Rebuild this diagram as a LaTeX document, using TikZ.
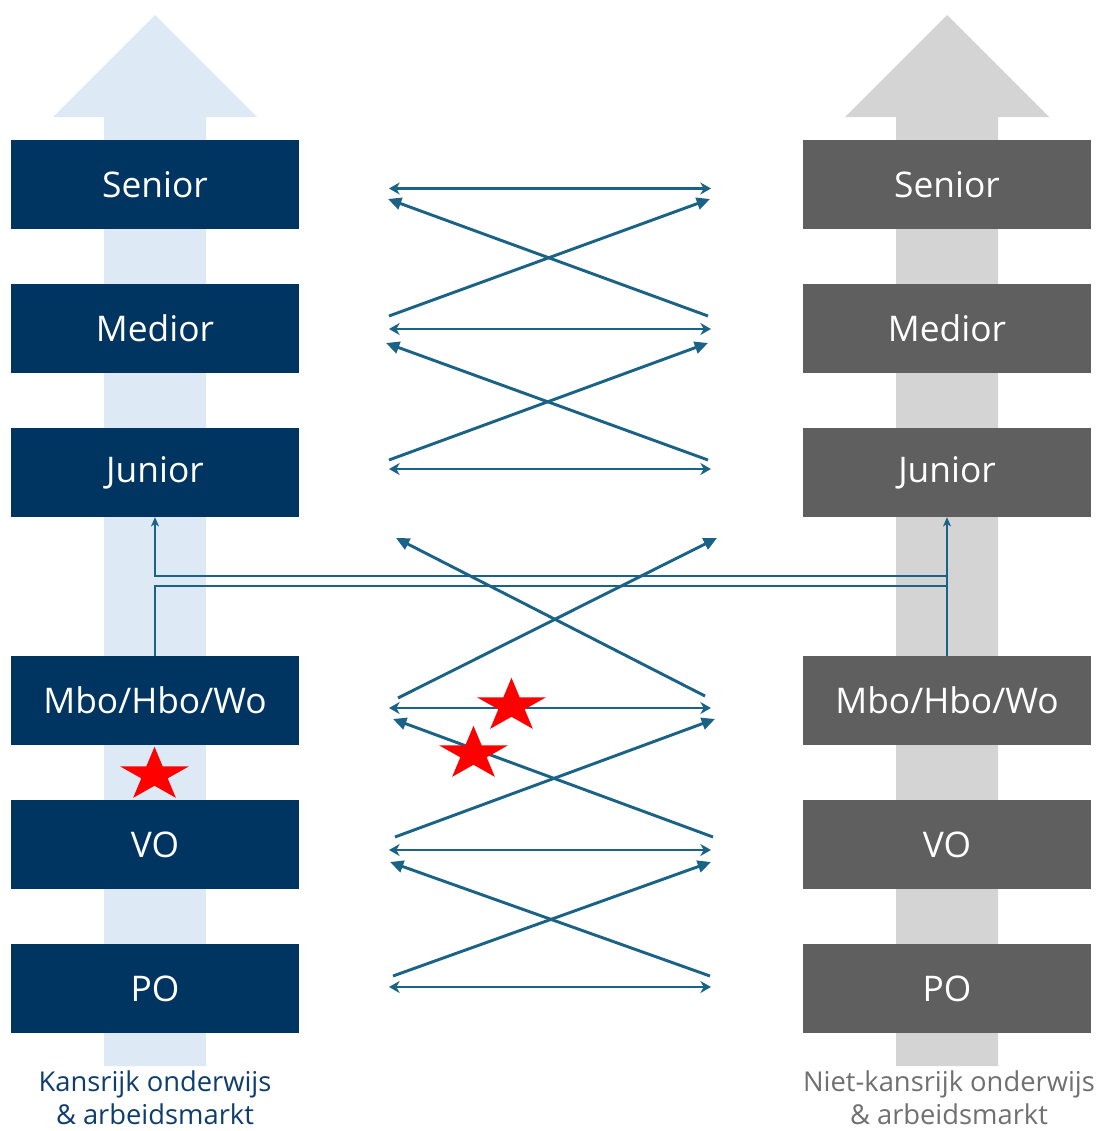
\documentclass[tikz,border=0pt]{standalone}
\usepackage{fontspec}
\setmainfont{Open Sans}
\usetikzlibrary{positioning,arrows.meta}
\definecolor{navy}{HTML}{003562}
\definecolor{donker}{HTML}{5F5F5F}
\definecolor{lichtblauw}{HTML}{DDE9F5}
\definecolor{lichtgrijs}{HTML}{D4D4D4}
\definecolor{lijn}{HTML}{1A6386}
\definecolor{tekstgrijs}{HTML}{707070}
\definecolor{tekstblauw}{HTML}{0E3D6E}
\tikzset{ster/.pic={\fill[red] (90:1) -- (126:0.382) -- (162:1) -- (198:0.382) -- (234:1) -- (270:0.382) -- (306:1) -- (342:0.382) -- (18:1) -- (54:0.382) -- cycle;}}
\begin{document}
\begin{tikzpicture}[x=0.75pt,y=-0.75pt,
    node distance=41pt,
    lbox/.style = {fill=navy, text=white, minimum width=216pt, minimum height=67pt, inner sep=0pt, outer sep=0pt, font=\fontsize{26.5}{30}\selectfont},
    rbox/.style = {lbox, fill=donker},
    link/.style = {draw=lijn, line width=2pt},
    both/.style = {link, {Stealth[length=8pt,width=9pt,inset=2.5pt]}-{Stealth[length=8pt,width=9pt,inset=2.5pt]}},
    cross/.style = {link, line width=2.2pt, -{Triangle[length=10pt,width=9pt]}},
    omhoog/.style = {link, line width=1.8pt, -{Stealth[length=7pt,width=6pt,inset=2pt]}},
    label/.style = {align=center, inner sep=0pt, font=\fontsize{20.5}{25}\selectfont}]
\useasboundingbox (0,0) rectangle (1099,1131);
% grote pijlen op de achtergrond
\fill[lichtblauw] (104,1066) -- (104,117) -- (53,117) -- (155,15) -- (257,117) -- (206,117) -- (206,1066) -- cycle;
\fill[lichtgrijs] (896,1066) -- (896,117) -- (845,117) -- (947,15) -- (1049,117) -- (998,117) -- (998,1066) -- cycle;
% linker kolom
\node[lbox] (lsen) at (155,184.5) {Senior};
\node[lbox] (lmed) [below=of lsen] {Medior};
\node[lbox] (ljun) [below=of lmed] {Junior};
\node[lbox] (lmbo) [below=104pt of ljun] {Mbo/Hbo/Wo};
\node[lbox] (lvo) [below=of lmbo] {VO};
\node[lbox] (lpo) [below=of lvo] {PO};
% rechter kolom
\foreach \n/\t in {sen/Senior, med/Medior, jun/Junior, mbo/{Mbo/Hbo/Wo}, vo/VO, po/PO}
    \node[rbox] (r\n) [right=378pt of l\n] {\t};
\node[label, text=tekstblauw] (lkans) at (155,1098) {Kansrijk onderwijs\\\& arbeidsmarkt};
\node[label, text=tekstgrijs] (rkans) at (949,1098) {Niet-kansrijk onderwijs\\\& arbeidsmarkt};
% horizontale pijlen
\foreach \i/\y in {1/188.5, 2/329, 3/469, 4/708, 5/850, 6/987} {
    \coordinate (hl\i) at (389,\y);
    \coordinate (hr\i) at (711,\y);
    \draw[both] (hl\i) -- (hr\i);
}
% kruisende pijlen
\foreach \i/\xa/\ya/\xb/\yb in {1/389/316/710/199, 2/708/316/388/199, 3/389/460/708/343, 4/708/460/386/343,
        5/398/698/717/538, 6/705/696/396/538, 7/395/837/715/719, 8/713/837/393/719,
        9/393/976/711/862, 10/710/976/390/862} {
    \coordinate (cs\i) at (\xa,\ya);
    \coordinate (ct\i) at (\xb,\yb);
    \draw[cross] (cs\i) -- (ct\i);
}
% doorstroom naar junior
\draw[omhoog] (rmbo.north) -- (rjun.south);
\draw[omhoog] (rmbo.north |- 0,576) -- (lmbo.north |- 0,576) -- (ljun.south);
\draw[link, line width=1.8pt] (lmbo.north) -- (lmbo.north |- 0,586) -- (rmbo.north |- 0,586);
% sterren
\foreach \x/\y in {511.5/706, 473.5/754, 154.5/775}
    \pic[xscale=36.3, yscale=-28.2] at (\x,\y) {ster};
\end{tikzpicture}
\end{document}
